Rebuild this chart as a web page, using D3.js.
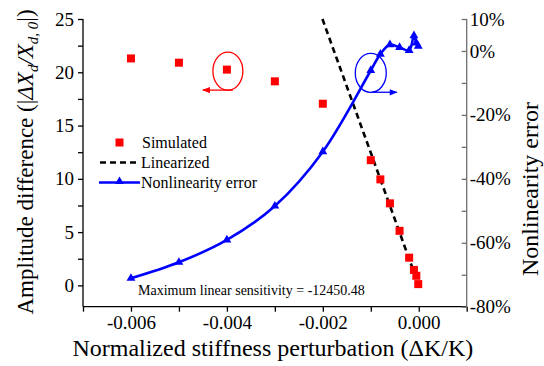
<!DOCTYPE html>
<html><head><meta charset="utf-8">
<script src="https://cdn.jsdelivr.net/npm/d3@7"></script>
<style>
body{margin:0;background:#fff;}
text{font-family:"Liberation Serif","Times New Roman",serif;}
</style></head>
<body><svg id="c" width="544" height="366"></svg>
<script>
// ---- data ----
const perturbation = [-0.006, -0.005, -0.004, -0.003, -0.002, -0.001, -0.0008, -0.0006, -0.0004, -0.0002, -0.0001, -0.00005, -0.00001];
const simulated    = [21.3, 20.9, 20.25, 19.15, 17.05, 11.75, 9.95, 7.7, 5.12, 2.6, 1.45, 0.9, 0.12];
const nonlinErrPct = [-71.1, -66.1, -59.1, -48.5, -31.5, -6.1, -1.0, 2.0, 1.1, 0.2, 4.8, 2.5, 1.5];
const sensitivity = -12450.48;
const linearX = [-0.002008, 0.0];
const xTickLabels = [-0.006, -0.004, -0.002, 0.000];
const yLeftTickLabels = [0, 5, 10, 15, 20, 25];
const yRightTickLabels = [10, 0, -20, -40, -60, -80];

// ---- layout ----
const svg = d3.select("#c");
const L = 83, R = 466.7, T = 19, B = 306.7;
const x = d3.scaleLinear().domain([-0.007, 0.001]).range([L, R]);
const yL = d3.scaleLinear().domain([-2, 25]).range([B, T]);
const yR = d3.scaleLinear().domain([-80, 10]).range([B, T]);

// axes
const xTicks = d3.range(-7, 2).map(k => k / 1000);
const fmtX = d => xTickLabels.some(v => Math.abs(v - d) < 1e-9) ? (Math.abs(d) < 1e-9 ? "0.000" : d3.format(".3f")(d).replace("−","-")) : "";
const xAxis = d3.axisBottom(x).tickValues(xTicks).tickSize(5).tickPadding(4).tickFormat(fmtX);
const gx = svg.append("g").attr("transform", `translate(0,${B})`).call(xAxis);
const leftAxis = d3.axisLeft(yL).tickValues(d3.range(0, 11).map(k => k * 2.5)).tickSize(5).tickPadding(4)
  .tickFormat(d => yLeftTickLabels.includes(d) ? d : "");
const gl = svg.append("g").attr("transform", `translate(${L},0)`).call(leftAxis);
const rightAxis = d3.axisLeft(yR).tickValues(d3.range(-8, 2).map(k => k * 10)).tickSize(5)
  .tickFormat(d => yRightTickLabels.includes(d) ? (d + "%").replace("−", "-") : "");
const gr = svg.append("g").attr("transform", `translate(${R},0)`).call(rightAxis);
gr.selectAll(".tick text").attr("text-anchor", "start").attr("x", 3);
[gx, gl, gr].forEach(g => {
  g.selectAll("text").attr("font-size", 19).attr("fill", "#000").attr("font-family", "Liberation Serif");
  g.select(".domain").attr("stroke", "#000").attr("stroke-width", 1.3);
  g.selectAll(".tick line").attr("stroke", "#000").attr("stroke-width", 1.3);
});
gx.select(".domain").attr("d", `M${L},0H${R}`);
gl.select(".domain").attr("d", `M0,${B}V${T}`);
gr.select(".domain").attr("stroke", "#6f6f6f").attr("d", `M0,${B}V${T}`);
gr.selectAll(".tick line").attr("stroke", "#6f6f6f");
gx.selectAll(".tick text").attr("dy", "0.71em");

// linearized dashed
svg.append("path")
  .attr("d", d3.line().x(d => x(d)).y(d => yL(sensitivity * d))(linearX))
  .attr("stroke", "#000").attr("stroke-width", 2.6).attr("stroke-dasharray", "6,4").attr("fill", "none");

// nonlinearity error
const nl = perturbation.map((p, i) => [p, nonlinErrPct[i]]);
svg.append("path")
  .attr("d", d3.line().x(d => x(d[0])).y(d => yR(d[1])).curve(d3.curveCatmullRom.alpha(0.5))(nl))
  .attr("stroke", "#0000ff").attr("stroke-width", 2.6).attr("fill", "none");
const tri = d3.symbol().type(d3.symbolTriangle).size(34);
svg.append("g").selectAll("path").data(nl).join("path")
  .attr("d", tri).attr("transform", d => `translate(${x(d[0])},${yR(d[1])})`).attr("fill", "#0000ff");

// simulated squares
svg.append("g").selectAll("rect").data(perturbation).join("rect")
  .attr("x", (d) => x(d) - 4).attr("y", (d, i) => yL(simulated[i]) - 4)
  .attr("width", 8).attr("height", 8).attr("fill", "#ff0000");

// annotations
const defs = svg.append("defs");
function marker(id, color) {
  defs.append("marker").attr("id", id).attr("viewBox", "0 0 10 10").attr("refX", 9).attr("refY", 5)
    .attr("markerWidth", 8).attr("markerHeight", 6).attr("orient", "auto")
    .append("path").attr("d", "M0,1L10,5L0,9Z").attr("fill", color);
}
marker("ar", "#ff0000"); marker("ab", "#0000ff");
const ex1 = x(-0.004), ey1 = yL(20.25);
svg.append("ellipse").attr("cx", ex1 + 1).attr("cy", ey1 + 1.5).attr("rx", 15).attr("ry", 19)
  .attr("fill", "none").attr("stroke", "#ff0000").attr("stroke-width", 1.3);
svg.append("line").attr("x1", ex1 + 6).attr("y1", ey1 + 20.5).attr("x2", ex1 - 24).attr("y2", ey1 + 20.5)
  .attr("stroke", "#ff0000").attr("stroke-width", 1.3).attr("marker-end", "url(#ar)");
const ex2 = x(-0.001), ey2 = yR(-6.1);
svg.append("ellipse").attr("cx", ex2 + 0).attr("cy", ey2 + 2.5).attr("rx", 15.5).attr("ry", 19.5)
  .attr("fill", "none").attr("stroke", "#0000ff").attr("stroke-width", 1.3);
svg.append("line").attr("x1", ex2 + 1).attr("y1", ey2 + 21.8).attr("x2", ex2 + 26).attr("y2", ey2 + 21.8)
  .attr("stroke", "#0000ff").attr("stroke-width", 1.3).attr("marker-end", "url(#ab)");

// legend
const lg = svg.append("g");
lg.append("rect").attr("x", 115.5).attr("y", 138.5).attr("width", 8).attr("height", 8).attr("fill", "#ff0000");
lg.append("text").attr("x", 142).attr("y", 147.5).attr("font-size", 16).text("Simulated");
lg.append("line").attr("x1", 100).attr("x2", 140).attr("y1", 162.5).attr("y2", 162.5)
  .attr("stroke", "#000").attr("stroke-width", 2.6).attr("stroke-dasharray", "6,4");
lg.append("text").attr("x", 141).attr("y", 167.5).attr("font-size", 16).text("Linearized");
lg.append("line").attr("x1", 99).attr("x2", 140).attr("y1", 182.5).attr("y2", 182.5)
  .attr("stroke", "#0000ff").attr("stroke-width", 2.6);
lg.append("path").attr("d", tri).attr("transform", "translate(119.5,181.5)").attr("fill", "#0000ff");
lg.append("text").attr("x", 141).attr("y", 187.5).attr("font-size", 16).text("Nonlinearity error");

// sensitivity note
svg.append("text").attr("x", 138).attr("y", 294.5).attr("font-size", 14)
  .text("Maximum linear sensitivity = " + d3.format(".2f")(sensitivity).replace("−", "-"));

// axis titles
svg.append("text").attr("x", (L + R) / 2 - 2).attr("y", 356).attr("text-anchor", "middle").attr("font-size", 24)
  .text("Normalized stiffness perturbation (ΔK/K)");
svg.append("text").attr("transform", "translate(538,189) rotate(-90)").attr("text-anchor", "middle")
  .attr("font-size", 24).text("Nonlinearity error");
const yt = svg.append("text").attr("transform", "translate(33,162) rotate(-90)").attr("text-anchor", "middle")
  .attr("font-size", 23);
yt.append("tspan").text("Amplitude difference (|");
yt.append("tspan").attr("font-style", "italic").text("ΔX");
yt.append("tspan").attr("font-style", "italic").attr("font-size", 15).attr("dy", 5).text("d");
yt.append("tspan").attr("font-style", "italic").attr("dy", -5).text("/X");
yt.append("tspan").attr("font-style", "italic").attr("font-size", 15).attr("dy", 5).text("d, 0");
yt.append("tspan").attr("dy", -5).text("|)");
</script></body></html>
